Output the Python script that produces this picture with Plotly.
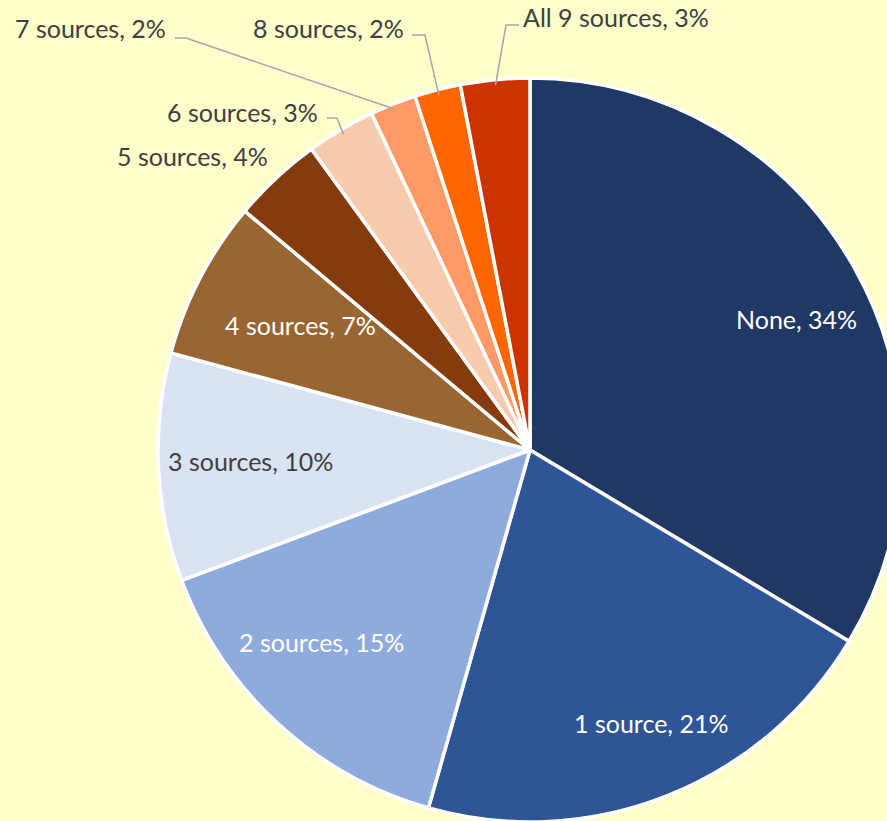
import math
import plotly.graph_objects as go

# ---- data ----
categories = ["None", "1 source", "2 sources", "3 sources", "4 sources",
              "5 sources", "6 sources", "7 sources", "8 sources", "All 9 sources"]
shares = [33.6, 20.8, 14.9, 9.9, 6.9, 3.9, 3.0, 2.0, 2.0, 3.0]
colors = ["#203864", "#2F5597", "#8FAADC", "#DAE3F3", "#996633",
          "#843C0C", "#F8CBAD", "#FF9966", "#FF6600", "#CC3300"]

# ---- layout constants (pixels) ----
W, H = 940, 840
CX, CY, R = 530, 450, 372
FONT = "Lato"
FS = 25
BG = "#FFFFCC"
DARK = "#404040"

total = sum(shares)
texts = [f"{c}, {round(v / total * 100)}%" for c, v in zip(categories, shares)]


def px(x):
    return x / W


def py(y):
    return 1 - y / H


fig = go.Figure(go.Pie(
    labels=categories,
    values=shares,
    sort=False,
    direction="clockwise",
    rotation=0,
    marker=dict(colors=colors, line=dict(color="white", width=3.5)),
    textinfo="none",
    hoverinfo="label+percent",
    showlegend=False,
    domain=dict(x=[px(CX - R), px(CX + R)], y=[py(CY + R), py(CY - R)]),
))

# mid-angle of each slice (degrees clockwise from 12 o'clock)
mids = []
acc = 0.0
for v in shares:
    mids.append((acc + v / 2) / total * 360)
    acc += v


def arc_point(i, f=1.0):
    a = math.radians(mids[i])
    return CX + f * R * math.sin(a), CY - f * R * math.cos(a)


annotations = []
# inside labels: (index, x, y, color)
inside = [(0, 796, 319, "white"), (1, 651, 723, "white"), (2, 321, 642, "white"),
          (3, 250, 461, DARK), (4, 300, 325, "white")]
for i, x, y, col in inside:
    annotations.append(dict(x=px(x), y=py(y), xref="paper", yref="paper",
                            text=texts[i], showarrow=False, xanchor="center",
                            yanchor="middle", font=dict(family=FONT, size=FS, color=col)))

# outside labels: (index, x, y, anchor, leader start, leader knee)
outside = [(7, 168, 28, "right", (175, 38), (186, 38)),
           (8, 406, 28, "right", (412, 35), (425, 35)),
           (9, 521, 17, "left", (519, 25), (506, 25)),
           (6, 320, 112, "right", (327, 118), (337, 118)),
           (5, 270, 156, "right", None, None)]
shapes = []
for i, x, y, anc, s, k in outside:
    annotations.append(dict(x=px(x), y=py(y), xref="paper", yref="paper",
                            text=texts[i], showarrow=False, xanchor=anc,
                            yanchor="middle", font=dict(family=FONT, size=FS, color=DARK)))
    if s is not None:
        ex, ey = arc_point(i, 0.985)
        path = f"M {px(s[0])} {py(s[1])} L {px(k[0])} {py(k[1])} L {px(ex)} {py(ey)}"
        shapes.append(dict(type="path", xref="paper", yref="paper", path=path,
                           line=dict(color="#A6A6A6", width=1.5)))

fig.update_layout(
    width=W, height=H,
    margin=dict(l=0, r=0, t=0, b=0),
    paper_bgcolor=BG, plot_bgcolor=BG,
    annotations=annotations,
    shapes=shapes,
    font=dict(family=FONT),
)

fig.write_html("out.html", config={"displayModeBar": False},
               post_script="document.body.style.margin='0';document.body.style.overflow='hidden';")
